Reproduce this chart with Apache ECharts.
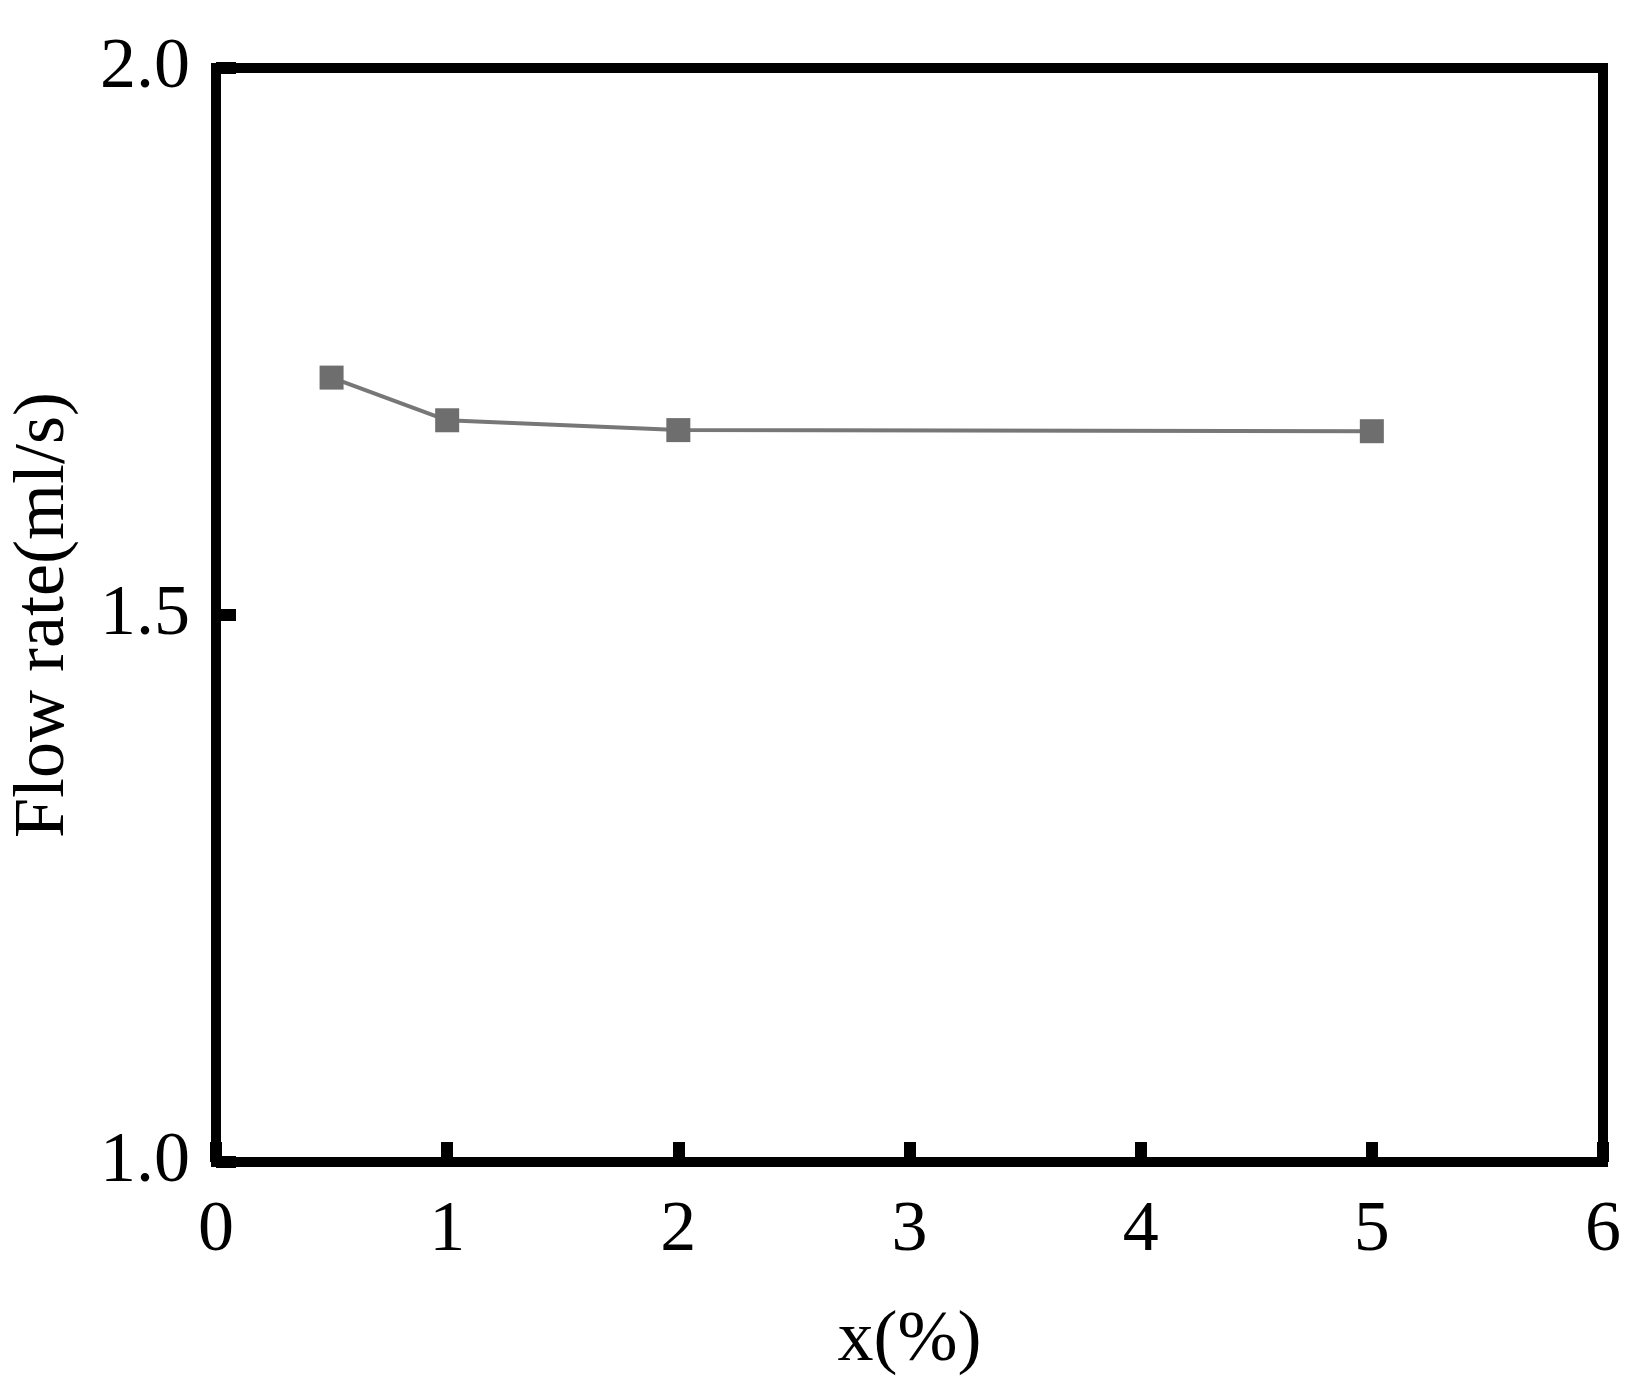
<!DOCTYPE html>
<html>
<head>
<meta charset="utf-8">
<script src="https://cdn.jsdelivr.net/npm/echarts@6/dist/echarts.min.js"></script>
<style>html,body{margin:0;background:#fff}#chart{width:1648px;height:1386px}</style>
</head>
<body>
<div id="chart"></div>
<script>
const xValues = [0.5, 1, 2, 5];
const flowRate = [1.717, 1.678, 1.669, 1.668];

const font = '"Liberation Serif", "DejaVu Serif", serif';
const chart = echarts.init(document.getElementById('chart'));

chart.setOption({
  animation: false,
  backgroundColor: '#fff',
  grid: {
    left: 201, right: 45, top: 68, bottom: 224,
    show: true, borderColor: '#000', borderWidth: 10
  },
  xAxis: {
    type: 'value', min: 0, max: 6, interval: 1,
    name: 'x(%)', nameLocation: 'middle', nameGap: 143,
    nameTextStyle: { fontFamily: font, fontSize: 72, color: '#000' },
    axisLine: { show: true, lineStyle: { color: '#000', width: 10 } },
    axisTick: { show: true, inside: true, length: 20, lineStyle: { color: '#000', width: 12 } },
    axisLabel: { margin: 33, fontFamily: font, fontSize: 72, color: '#000' },
    splitLine: { show: false }
  },
  yAxis: {
    type: 'value', min: 1.0, max: 2.0, interval: 0.5,
    name: 'Flow rate(ml/s)', nameLocation: 'middle', nameGap: 136,
    nameTextStyle: { fontFamily: font, fontSize: 72, color: '#000' },
    axisLine: { show: true, lineStyle: { color: '#000', width: 10 } },
    axisTick: { show: true, inside: true, length: 20, lineStyle: { color: '#000', width: 12 } },
    axisLabel: { margin: 26, fontFamily: font, fontSize: 72, color: '#000',
      formatter: v => v.toFixed(1) },
    splitLine: { show: false }
  },
  series: [{
    type: 'line',
    data: xValues.map((x, i) => [x, flowRate[i]]),
    symbol: 'rect', symbolSize: 24,
    lineStyle: { color: '#777', width: 4 },
    itemStyle: { color: '#6e6e6e' }
  }]
});
</script>
</body>
</html>
